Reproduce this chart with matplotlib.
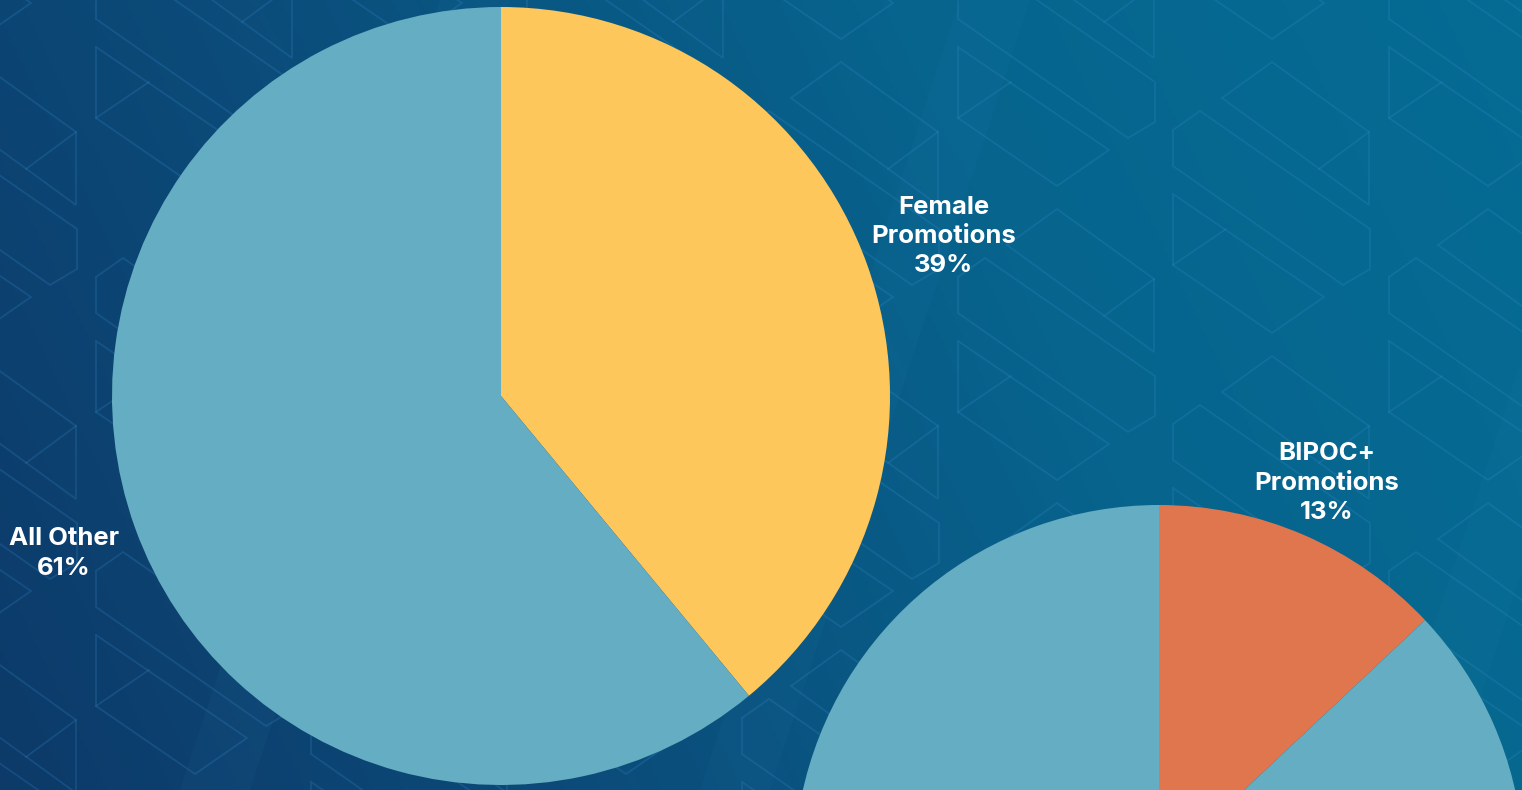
import numpy as np
import matplotlib.pyplot as plt
from matplotlib.colors import LinearSegmentedColormap

# chart data
female_share = [39, 61]
female_labels = ["Female\nPromotions\n39%", "All Other\n61%"]
bipoc_share = [13, 87]
bipoc_labels = ["BIPOC+\nPromotions\n13%", ""]

W, H = 1522, 790
fig = plt.figure(figsize=(W / 100, H / 100), dpi=100)
ax = fig.add_axes([0, 0, 1, 1])

# background gradient (navy -> teal blue)
gx, gy = np.meshgrid(np.linspace(0, 1, 400), np.linspace(0, 1, 200))
grad = 0.8 * gx + 0.2 * gy
cmap = LinearSegmentedColormap.from_list("bg", ["#0d3a69", "#0b4d7b", "#07648d", "#056c94"])
ax.imshow(grad, extent=[0, W, 0, H], origin="lower", cmap=cmap, aspect="auto", zorder=0)

# faint diagonal light bands
for x0 in [180, 700, 1380]:
    ax.fill([x0, x0 + 70, x0 + 70 + 260, x0 + 260], [0, 0, H, H],
            color="#3a9ac8", alpha=0.05, lw=0, zorder=0.5)

# line pattern (one tile, repeated on a centred lattice)
tile = [
    [(0, 0), (151, 103), (99, 139), (0, 71), (0, 0)],
    [(0, 71), (53, 35)],
    [(49, 198), (99, 162), (196, 232), (196, 305), (49, 198)],
    [(146, 269), (196, 232)],
    [(0, -64), (27, -83), (197, 35), (197, 75), (170, 91), (0, -28), (0, -64)],
]
px, py = 431, 294
for i in range(-3, 4):
    for j in range(-2, 4):
        for ox, oy in [(958 + i * px, 47 + j * py), (958 + 215 + i * px, 47 + 147 + j * py)]:
            for seg in tile:
                xs = [ox + p[0] for p in seg]
                ys = [H - (oy + p[1]) for p in seg]
                ax.plot(xs, ys, color="#3c8fd0", alpha=0.22, lw=1.3, zorder=1,
                        solid_joinstyle="miter")

# pies
teal = "#65adc2"
pies = [
    (female_share, female_labels, ["#fec75c", teal], (501, H - 396), 389, [1.21, 1.195]),
    (bipoc_share, bipoc_labels, ["#df764e", teal], (1159, H - 870), 365, [1.155, 1.2]),
]
for share, labels, colors, center, r, dists in pies:
    wedges, _ = ax.pie(share, colors=colors, startangle=90, counterclock=False,
                       center=center, radius=r, frame=True,
                       wedgeprops=dict(linewidth=0, zorder=2))
    for w, lab, d in zip(wedges, labels, dists):
        if not lab:
            continue
        ang = np.deg2rad((w.theta1 + w.theta2) / 2)
        ax.text(center[0] + d * r * np.cos(ang), center[1] + d * r * np.sin(ang), lab,
                ha="center", va="center", color="white", fontsize=18.5,
                fontweight="bold", family="Inter", linespacing=1.35, zorder=3)

ax.set_xlim(0, W)
ax.set_ylim(0, H)
ax.set_aspect("auto")
ax.axis("off")

fig.savefig("out.png", dpi=100)
